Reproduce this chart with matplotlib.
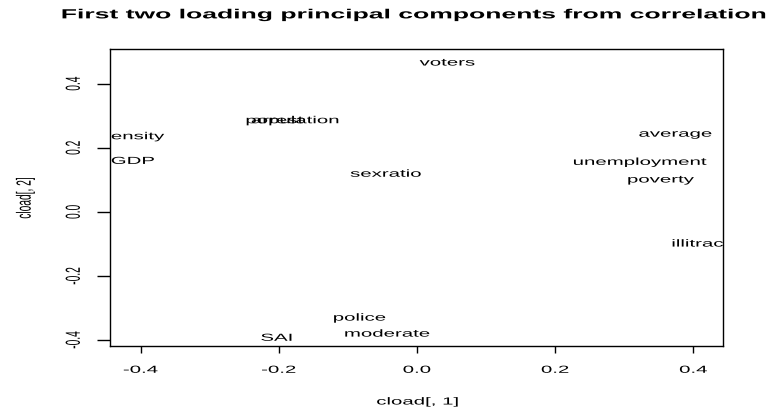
import matplotlib
matplotlib.use("Agg")
import matplotlib.pyplot as plt
from matplotlib.patheffects import AbstractPathEffect
from matplotlib.transforms import Affine2D, offset_copy

# ---- data (loadings) ----
labels = ["voters", "arrest", "population", "density", "GDP", "sexratio",
          "average", "unemployment", "poverty", "illitracy",
          "police", "moderate", "SAI"]
pc1 = [0.044, -0.202, -0.180, -0.412, -0.411, -0.045,
       0.374, 0.323, 0.353, 0.414,
       -0.083, -0.043, -0.203]
pc2 = [0.468, 0.288, 0.288, 0.238, 0.161, 0.121,
       0.246, 0.158, 0.103, -0.097,
       -0.328, -0.378, -0.391]
xticks = [-0.4, -0.2, 0.0, 0.2, 0.4]
yticks = [-0.4, -0.2, 0.0, 0.2, 0.4]
xtick_labels = ["-0.4", "-0.2", "0.0", "0.2", "0.4"]
ytick_labels = ["-0.4", "-0.2", "0.0", "0.2", "0.4"]
title = "First two loading principal components from correlation"
xlabel = "cload[, 1]"
ylabel = "cload[, 2]"


class HStretch(AbstractPathEffect):
    """Stretch glyphs horizontally (the reference image is stretched ~2x wide)."""
    def __init__(self, sx=2.0):
        super().__init__((0, 0))
        self._sx = sx

    def draw_path(self, renderer, gc, tpath, affine, rgbFace=None):
        ext = tpath.get_extents(affine)
        cx = (ext.x0 + ext.x1) / 2.0
        cy = (ext.y0 + ext.y1) / 2.0
        t = affine + Affine2D().translate(-cx, -cy).scale(self._sx, 1.0).translate(cx, cy)
        renderer.draw_path(gc, tpath, t, rgbFace)


SX = 2.0
FS = 7.35
plt.rcParams["font.family"] = ["Liberation Sans", "DejaVu Sans"]

W, H = 775, 407
fig = plt.figure(figsize=(W / 100, H / 100), dpi=100)
L, R, T, B = 109.7, 723.3, 49.3, 346.3
ax = fig.add_axes([L / W, 1 - B / H, (R - L) / W, (B - T) / H])
ax.set_xlim(-0.4446, 0.4434)
ax.set_ylim(-0.4196, 0.5073)

for s in ax.spines.values():
    s.set_linewidth(1.0)
    s.set_color("black")

ax.set_xticks(xticks)
ax.set_xticklabels(xtick_labels)
ax.set_yticks(yticks)
ax.set_yticklabels(ytick_labels)
ax.tick_params(axis="x", direction="out", length=5.0, width=1.0, pad=8.3,
               labelsize=FS, colors="black")
ax.tick_params(axis="y", direction="out", length=9.4, width=1.0, pad=13.2,
               labelsize=FS, colors="black")
for lab in ax.get_yticklabels():
    lab.set_rotation(90)
    lab.set_va("center")

pe = [HStretch(SX)]
for lab in ax.get_xticklabels() + ax.get_yticklabels():
    lab.set_path_effects(pe)

# labels of the loadings (R centers text at baseline + half cap height)
trans = offset_copy(ax.transData, fig=fig, x=0, y=-3.65, units="dots")
for name, x, y in zip(labels, pc1, pc2):
    ax.text(x, y, name, transform=trans, ha="center", va="baseline",
            fontsize=FS, color="black", clip_on=True, path_effects=pe)

ax.set_xlabel(xlabel, fontsize=FS, path_effects=pe)
ax.xaxis.label.set_va("center")
ax.xaxis.set_label_coords((417.7 - L) / (R - L), (B - 401.5) / (B - T))
ax.set_ylabel(ylabel, fontsize=FS, path_effects=pe)
ax.yaxis.label.set_va("center")
ax.yaxis.set_label_coords((25 - L) / (R - L), 0.5)

ax.set_title(title, fontsize=9.55, fontweight="bold", path_effects=pe,
             x=(413 - L) / (R - L), y=(B - 26.7) / (B - T), va="baseline")

fig.savefig("out.png", dpi=100, facecolor="white")
